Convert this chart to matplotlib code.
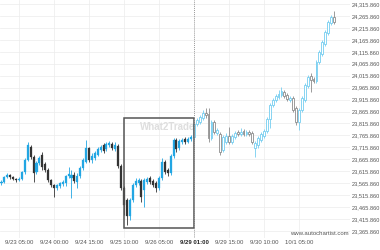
import matplotlib
matplotlib.use("Agg")
import matplotlib.pyplot as plt
from matplotlib.patches import Rectangle
import numpy as np

# ---- data (prices) ----
opens = [23567,23571,23592,23600,23592,23584,23579,23584,23613,23663,
         23717,23676,23613,23650,23684,23646,23621,23579,23558,23546,
         23554,23563,23567,23596,23588,23600,23571,23596,23630,23655,
         23713,23663,23671,23684,23705,23726,23709,23726,23730,23709,
         23722,23638,23546,23496,23429,23496,23558,23567,23575,23537,
         23571,23588,23575,23567,23546,23588,23655,23621,23609,23680,
         23747,23713,23738,23751,23738,23751,23759,23814,23822,23839,
         23860,23856,23755,23822,23776,23772,23705,23738,23763,23738,
         23759,23780,23772,23784,23772,23780,23776,23713,23726,23747,
         23763,23784,23835,23893,23914,23927,23935,23948,23935,23914,
         23922,23881,23822,23872,23914,23973,24015,24002,23994,24073,
         24107,24148,24194,24236,24261]
closes = [23571,23592,23600,23592,23584,23579,23584,23613,23663,23726,
          23676,23609,23650,23671,23634,23621,23579,23558,23546,23558,
          23567,23571,23596,23604,23600,23575,23596,23630,23663,23713,
          23663,23680,23692,23709,23717,23701,23730,23734,23713,23726,
          23638,23546,23475,23429,23496,23558,23575,23579,23508,23579,
          23584,23571,23558,23546,23588,23655,23613,23609,23680,23747,
          23709,23743,23747,23738,23751,23759,23814,23830,23843,23860,
          23851,23755,23822,23780,23789,23697,23759,23763,23738,23763,
          23776,23772,23780,23772,23780,23772,23738,23734,23755,23772,
          23784,23835,23893,23914,23931,23939,23952,23931,23918,23922,
          23872,23822,23872,23922,23977,24010,23998,23994,24073,24115,
          24157,24199,24241,24261,24241]
highs = [23579,23596,23609,23604,23596,23588,23592,23617,23671,23738,
         23726,23684,23659,23680,23697,23655,23630,23584,23563,23563,
         23571,23579,23600,23634,23621,23613,23609,23638,23671,23747,
         23717,23692,23701,23717,23726,23734,23738,23743,23738,23738,
         23730,23646,23554,23504,23504,23567,23588,23588,23584,23588,
         23592,23596,23584,23575,23596,23671,23663,23630,23688,23755,
         23755,23751,23755,23759,23759,23768,23822,23839,23851,23872,
         23881,23881,23830,23830,23797,23780,23768,23776,23801,23772,
         23784,23789,23797,23793,23789,23789,23784,23743,23763,23780,
         23793,23843,23902,23922,23939,23956,23969,23956,23943,23931,
         23931,23889,23881,23931,23985,24019,24027,24010,24081,24123,
         24165,24207,24249,24270,24287]
lows = [23558,23567,23588,23584,23579,23571,23575,23579,23604,23659,
        23667,23571,23604,23642,23621,23613,23571,23550,23508,23537,
        23546,23554,23554,23588,23504,23567,23546,23588,23621,23650,
        23655,23650,23663,23680,23697,23692,23701,23717,23705,23701,
        23630,23537,23433,23391,23412,23487,23550,23558,23487,23466,
        23563,23563,23550,23529,23537,23579,23604,23596,23600,23671,
        23697,23705,23730,23730,23734,23743,23747,23805,23814,23830,
        23839,23738,23747,23772,23768,23684,23697,23730,23730,23730,
        23751,23763,23763,23763,23763,23763,23730,23676,23713,23738,
        23755,23776,23797,23885,23906,23918,23927,23922,23910,23906,
        23864,23810,23789,23864,23906,23964,23948,23985,23985,24065,
        24098,24140,24186,24228,24232]

tick_labels = ['9/23 05:00', '9/24 00:00', '9/24 15:00', '9/25 10:00',
               '9/26 05:00', '9/29 15:00', '9/30 10:00', '10/1 05:00']
tick_idx = [6, 18, 30, 42, 54, 78, 90, 102]
marker_idx = 66
marker_label = '9/29 01:00'
y_levels = [23365.86 + 50 * k for k in range(20)]
rect_start, rect_end = 42, 66
rect_top, rect_bottom = 23839, 23379

# ---- figure ----
W, H = 380, 250
fig = plt.figure(figsize=(W / 100, H / 100), dpi=100)
ax = fig.add_axes([0, 1 - 238 / H, 350 / W, 238 / H])
ax.set_facecolor('white')

n = len(closes)
o = np.array(opens); c = np.array(closes); h = np.array(highs); l = np.array(lows)

BLUE = '#22a6e3'
DARK = '#333333'
FBLUE = '#74cdf0'
FGRAY = '#8c8c8c'

for i in range(n):
    up = c[i] >= o[i]
    future = i >= marker_idx
    if future:
        col = FBLUE if up else FGRAY
    else:
        col = BLUE if up else DARK
    ax.vlines(i, l[i], h[i], color=col, lw=0.6, zorder=3)
    bot = min(o[i], c[i]); ht = max(abs(c[i] - o[i]), 1.5)
    if future:
        ax.bar(i, ht, bottom=bot, width=0.62, facecolor='white',
               edgecolor=col, linewidth=0.6, zorder=4)
    else:
        ax.bar(i, ht, bottom=bot, width=0.7, facecolor=col,
               edgecolor=col, linewidth=0.2, zorder=4)

# grid
for yv in y_levels:
    ax.axhline(yv, color='#ececec', lw=0.5, zorder=0)
for t in tick_idx:
    ax.axvline(t, color='#ececec', lw=0.5, zorder=0)

# pattern rectangle
ax.add_patch(Rectangle((rect_start, rect_bottom), rect_end - rect_start,
                       rect_top - rect_bottom, fill=False, edgecolor='#555555',
                       lw=1.1, zorder=5))
ax.axvline(marker_idx, color='#9a9a9a', lw=0.7, ls=(0, (1, 1)), zorder=5)

# watermark (clipped at the marker line)
clip = Rectangle((-5, 23000), marker_idx + 5, 2000, transform=ax.transData)
wm = ax.text(rect_start + 5.5, 23801, 'What2Trade', fontsize=7, fontweight='bold',
             color='#dedede', family='Liberation Sans', va='center', ha='left',
             zorder=2)
wm.set_clip_path(clip)

ax.text(0.995, 0.008, 'www.autochartist.com', transform=ax.transAxes,
        fontsize=4.3, color='#555555', family='Liberation Sans',
        ha='right', va='bottom', zorder=6)

ax.set_xlim(-0.51, 119.5)
ax.set_ylim(23336.6, 24332.6)

ax.yaxis.tick_right()
ax.set_yticks(y_levels)
ax.set_yticklabels([f'{v:,.3f}' for v in y_levels], fontsize=4.1,
                   color='#555555', family='Liberation Sans')
ax.set_xticks(tick_idx + [marker_idx])
ax.set_xticklabels(tick_labels + [marker_label], fontsize=4.3,
                   color='#555555', family='Liberation Sans')
ax.get_xticklabels()[-1].set_color('#222222')
ax.get_xticklabels()[-1].set_fontweight('bold')
ax.tick_params(length=0, pad=1.5)
for s in ax.spines.values():
    s.set_visible(False)

fig.savefig('out.png', dpi=100, facecolor='white')
